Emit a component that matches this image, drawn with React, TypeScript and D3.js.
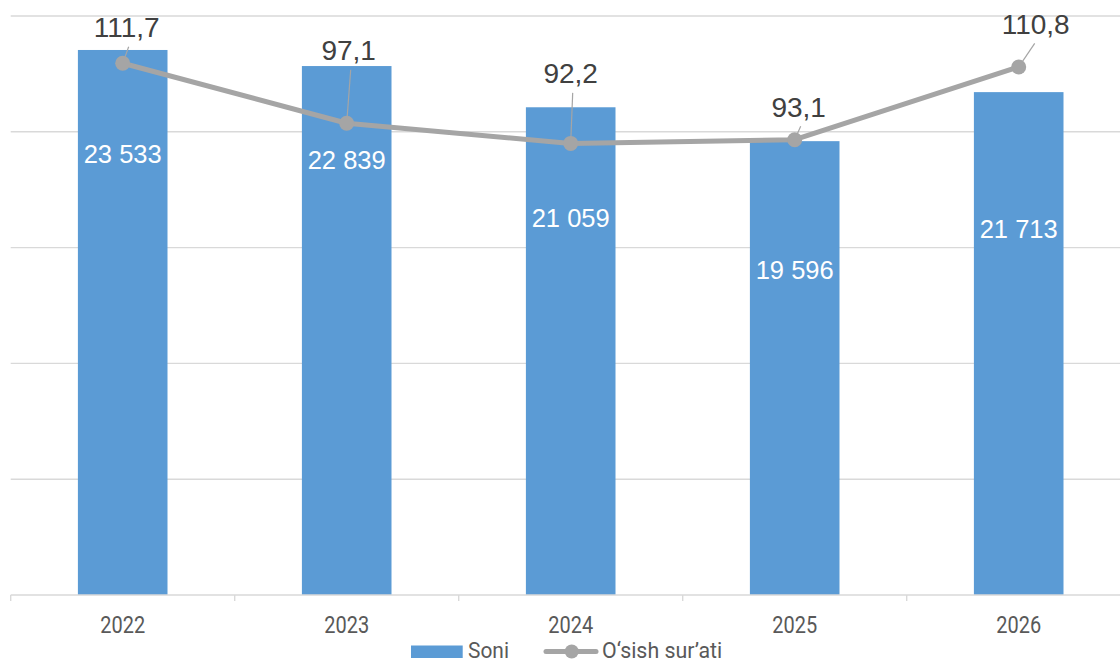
import React from "react";
import * as d3 from "d3";

const years = ["2022", "2023", "2024", "2025", "2026"];
const soni = [23533, 22839, 21059, 19596, 21713];
const growth = [111.7, 97.1, 92.2, 93.1, 110.8];
const yTicks = [5000, 10000, 15000, 20000, 25000];

// label layout (hand placed in the reference)
const barLabelY = [163.3, 169.3, 226.7, 279.3, 238.3];
const lineLabelDx = [4, 2, 0, 4, 17];
const lineLabelDy = [-26, -63, -60, -23, -33];

const W = 1120;
const H = 664;
const BAR = "#5B9BD5";
const LINE = "#A5A5A5";
const GRID = "#D9D9D9";

const fmtSpace = (v: number) => d3.format(",")(v).replace(/,/g, " ");
const fmtComma = (v: number) => d3.format(".1f")(v).replace(".", ",");

export default function App() {
  const x = d3.scaleBand<string>().domain(years).range([10.7, 1130.7]).paddingInner(0.6).paddingOuter(0.3);
  const y = d3.scaleLinear().domain([0, 25000]).range([595, 16]);
  const y2 = d3.scaleLinear().domain([-17.7, 123.2]).range([595, 16]);
  const cx = (i: number) => (x(years[i]) as number) + x.bandwidth() / 2;
  const step = x.step();
  const left0 = (x(years[0]) as number) - x.paddingOuter() * step;

  const line = d3
    .line<number>()
    .x((_, i) => cx(i))
    .y((d) => y2(d));

  const legY = 651.5;

  return (
    <svg width={W} height={H} style={{ position: "absolute", left: 0, top: 0, background: "#fff" }}>
      {/* gridlines */}
      {yTicks.map((t) => (
        <line key={t} x1={left0} x2={W} y1={y(t)} y2={y(t)} stroke={GRID} strokeWidth={1.4} />
      ))}
      {/* bars */}
      {soni.map((v, i) => (
        <rect key={i} x={x(years[i])} y={y(v)} width={x.bandwidth()} height={y(0) - y(v)} fill={BAR} />
      ))}
      {/* x axis */}
      <line x1={left0} x2={W} y1={y(0)} y2={y(0)} stroke={GRID} strokeWidth={1.4} />
      {years.map((_, i) => (
        <line key={i} x1={left0 + i * step} x2={left0 + i * step} y1={y(0)} y2={y(0) + 6} stroke={GRID} strokeWidth={1.4} />
      ))}
      {years.map((yr, i) => (
        <text
          key={yr}
          transform={`translate(${cx(i)},632.7) scale(0.85,1)`}
          textAnchor="middle"
          fontFamily="Roboto"
          fontSize={23.5}
          fill="#595959"
        >
          {yr}
        </text>
      ))}
      {/* bar labels */}
      {soni.map((v, i) => (
        <text
          key={i}
          x={cx(i)}
          y={barLabelY[i]}
          textAnchor="middle"
          fontFamily="Liberation Sans, Arial"
          fontSize={25.5}
          fill="#FFFFFF"
        >
          {fmtSpace(v)}
        </text>
      ))}
      {/* line */}
      <path d={line(growth) || ""} fill="none" stroke={LINE} strokeWidth={5} strokeLinejoin="round" strokeLinecap="round" />
      {growth.map((v, i) => (
        <circle key={i} cx={cx(i)} cy={y2(v)} r={7.5} fill={LINE} />
      ))}
      {/* leader lines and line labels */}
      {growth.map((v, i) => {
        const px = cx(i);
        const py = y2(v);
        const lx = px + lineLabelDx[i];
        const ly = py + lineLabelDy[i];
        const sx = lx + (lineLabelDx[i] > 10 ? -1 : 2);
        const sy = ly + 9.5;
        const dx = px - sx;
        const dy = py - sy;
        const len = Math.sqrt(dx * dx + dy * dy);
        const ex = px - (dx / len) * 6.5;
        const ey = py - (dy / len) * 6.5;
        return (
          <g key={i}>
            {len > 12 && <line x1={sx} y1={sy} x2={ex} y2={ey} stroke={LINE} strokeWidth={1.2} />}
            <text x={lx} y={ly} textAnchor="middle" fontFamily="Liberation Sans, Arial" fontSize={28} fill="#404040">
              {fmtComma(v)}
            </text>
          </g>
        );
      })}
      {/* legend */}
      <rect x={411} y={legY - 6} width={51.7} height={12.5} fill={BAR} />
      <text transform={`translate(468,${legY + 6.8}) scale(0.93,1)`} fontFamily="Roboto" fontSize={22.5} fill="#595959">
        Soni
      </text>
      <line x1={546} x2={596} y1={legY} y2={legY} stroke={LINE} strokeWidth={5} strokeLinecap="round" />
      <circle cx={571.7} cy={legY} r={7} fill={LINE} />
      <text transform={`translate(602,${legY + 6.8}) scale(0.95,1)`} fontFamily="Roboto" fontSize={22.5} fill="#595959">
        O‘sish sur’ati
      </text>
    </svg>
  );
}
